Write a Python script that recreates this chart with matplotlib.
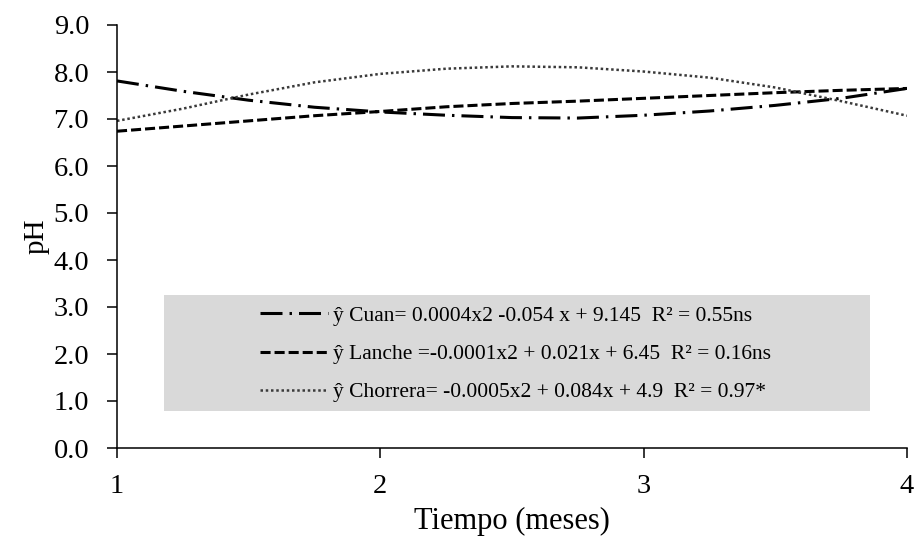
import matplotlib
matplotlib.use("Agg")
import matplotlib.pyplot as plt
from matplotlib.patches import Rectangle

plt.rcParams['font.family'] = ['Liberation Serif', 'DejaVu Serif']

months = [1.0, 1.25, 1.5, 1.75, 2.0, 2.25, 2.5, 2.75, 3.0, 3.25, 3.5, 3.75, 4.0]
cuan = [7.81, 7.59, 7.40, 7.25, 7.15, 7.08, 7.03, 7.02, 7.08, 7.17, 7.29, 7.44, 7.65]
lanche = [6.74, 6.85, 6.96, 7.07, 7.16, 7.26, 7.33, 7.38, 7.44, 7.50, 7.56, 7.61, 7.65]
chorrera = [6.96, 7.22, 7.52, 7.78, 7.96, 8.07, 8.12, 8.10, 8.01, 7.88, 7.67, 7.38, 7.07]

labels = [
    "ŷ Cuan= 0.0004x2 -0.054 x + 9.145  R² = 0.55ns",
    "ŷ Lanche =-0.0001x2 + 0.021x + 6.45  R² = 0.16ns",
    "ŷ Chorrera= -0.0005x2 + 0.084x + 4.9  R² = 0.97*",
]
xticks = [1, 2, 3, 4]
yticks = [0, 1, 2, 3, 4, 5, 6, 7, 8, 9]

fig = plt.figure(figsize=(9.14, 5.4), dpi=100)
ax = fig.add_axes([117/914, 1-448/540, 790/914, 423/540])

l1, = ax.plot(months, cuan, color='black', lw=2.2, dashes=(7.2, 2.3, 0.8, 2.3),
              dash_capstyle='butt', label=labels[0])
l2, = ax.plot(months, lanche, color='black', lw=2.2, dashes=(3.3, 1.3),
              dash_capstyle='butt', label=labels[1])
l3, = ax.plot(months, chorrera, color='#3a3a3a', lw=1.8, dashes=(1.0, 1.1),
              dash_capstyle='butt', label=labels[2])

ax.set_xlim(1, 4)
ax.set_ylim(0, 9)
ax.set_xticks(xticks)
ax.set_xticklabels([str(t) for t in xticks])
ax.set_yticks(yticks)
ax.set_yticklabels([f"{t:.1f}" for t in yticks])

for s in ['top', 'right']:
    ax.spines[s].set_visible(False)
for s in ['left', 'bottom']:
    ax.spines[s].set_linewidth(1.1)
    ax.spines[s].set_color('black')

ax.tick_params(axis='y', direction='out', length=7, width=1.1, pad=13, labelsize=20.5)
ax.tick_params(axis='x', direction='out', length=7, width=1.1, pad=12, labelsize=20.5)

ax.set_xlabel("Tiempo (meses)", fontsize=22)
ax.set_ylabel("pH", fontsize=21)
ax.xaxis.set_label_coords(0.5, (448-507)/423)
ax.yaxis.set_label_coords((50-117)/790, 0.5)

# gray legend box
rect = Rectangle((47/790, (448-411)/423), (870-164)/790, (411-295)/423,
                 transform=ax.transAxes, facecolor='#d9d9d9', edgecolor='none', zorder=1)
ax.add_patch(rect)

leg = ax.legend(handles=[l1, l2, l3], loc='upper left',
                bbox_to_anchor=((251.4-117)/790, (448-297)/423),
                frameon=False, fontsize=15.5, handlelength=3.16, handletextpad=0.23,
                labelspacing=0.85, borderaxespad=0)
leg.set_zorder(3)

fig.savefig("out.png", dpi=100)
